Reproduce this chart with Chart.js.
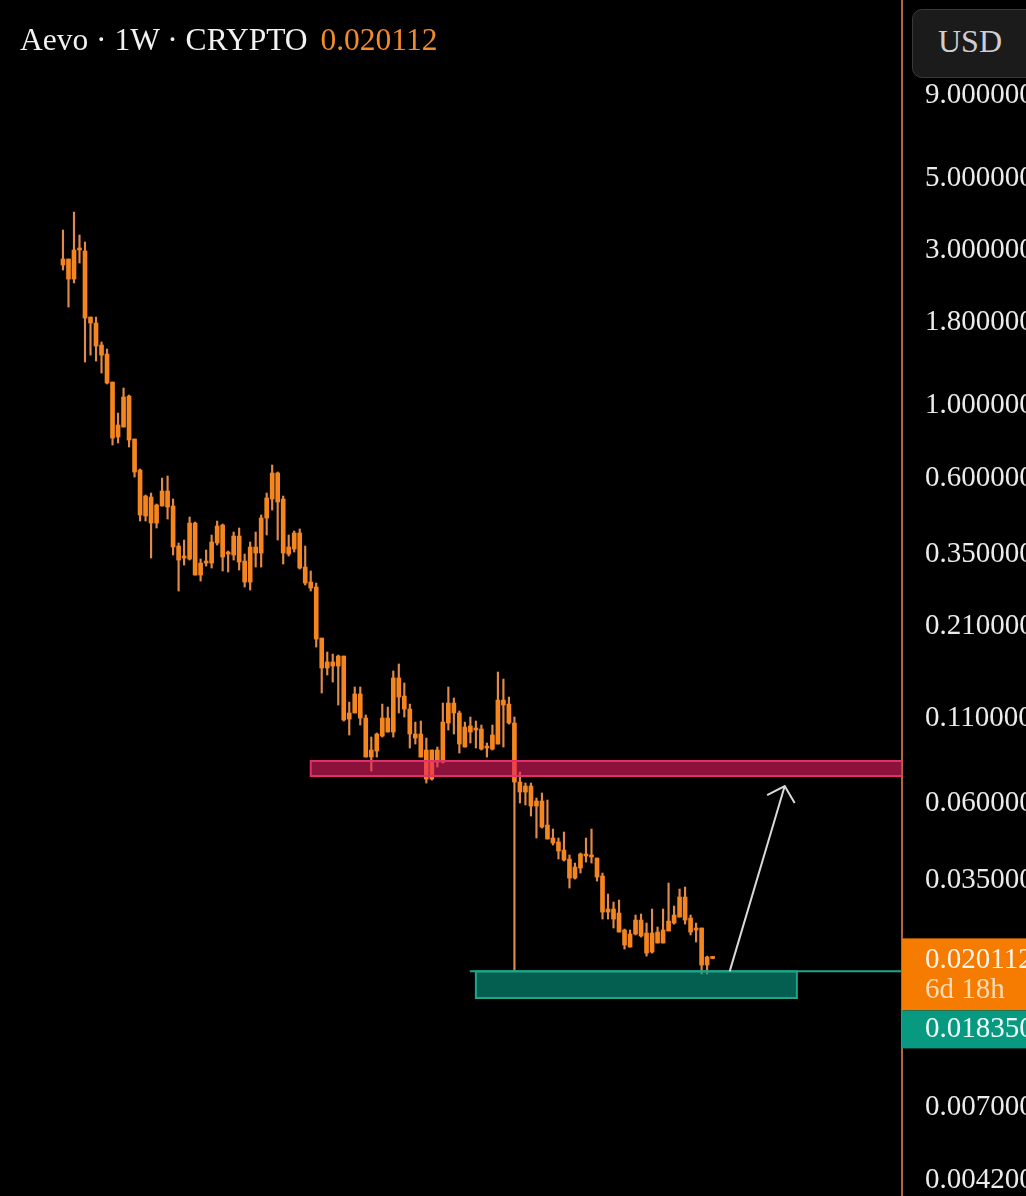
<!DOCTYPE html>
<html lang="en">
<head>
<meta charset="UTF-8">
<title>Aevo · 1W · CRYPTO</title>
<script src="https://cdn.jsdelivr.net/npm/chart.js"></script>
<style>
  html, body { margin: 0; padding: 0; background: #000; }
  body { width: 1026px; height: 1196px; position: relative; overflow: hidden; font-family: "Liberation Serif", serif; }
  #chart { position: absolute; left: 0; top: 0; }
  .title { position: absolute; left: 20px; top: 22px; font-size: 31.5px; color: #f2f2f2; white-space: nowrap; }
  .title .price { color: #f28c28; margin-left: 5px; }
  .usd {
    position: absolute; left: 912px; top: 9px; width: 130px; height: 69px; box-sizing: border-box;
    background: #1b1b1b; border: 1px solid #3a3a3a; border-radius: 10px;
    color: #cfcfcf; font-size: 32px; line-height: 63px; padding-left: 25px;
  }
</style>
</head>
<body>
  <canvas id="chart" width="1026" height="1196"></canvas>
  <div class="title">Aevo · 1W · CRYPTO <span class="price">0.020112</span></div>
  <div class="usd">USD</div>

<script>
// weekly candles, oldest first
const open = [2.706, 2.823, 2.451, 3.009, 2.988, 1.873, 1.796, 1.537, 1.442, 1.183,
  0.8021, 0.8608, 1.0716, 0.7908, 0.6352, 0.4588, 0.5248, 0.4366, 0.4925, 0.5475,
  0.4925, 0.3711, 0.3410, 0.3385, 0.4366, 0.3023, 0.3290, 0.3290, 0.3791, 0.4305,
  0.3507, 0.3483, 0.3983, 0.3337, 0.2877, 0.3685, 0.3532, 0.4524, 0.5174, 0.6219,
  0.5174, 0.3507, 0.3634, 0.4069, 0.3199, 0.2877, 0.2777, 0.1936, 0.1567, 0.1635,
  0.1589, 0.1705, 0.1092, 0.1140, 0.1304, 0.1100, 0.0835, 0.08712, 0.09686, 0.1100,
  0.09964, 0.1460, 0.1285, 0.1172, 0.09824, 0.09824, 0.08774, 0.07147, 0.08774, 0.08059,
  0.1062, 0.1223, 0.1140, 0.08962, 0.1040, 0.10106, 0.1018, 0.08899, 0.08836, 0.09153,
  0.1249, 0.1214, 0.1062, 0.06997, 0.0652, 0.06802, 0.05906, 0.06119, 0.05163, 0.0471,
  0.04579, 0.04327, 0.0406, 0.03549, 0.03809, 0.04206, 0.04118, 0.04088, 0.036, 0.02791,
  0.02851, 0.02772, 0.02458, 0.02179, 0.02389, 0.02637, 0.02406, 0.02103, 0.02423, 0.02242,
  0.02441, 0.02582, 0.02694, 0.03104, 0.02675, 0.02458, 0.02493, 0.01919, 0.02015];
const high = [3.465, 2.823, 3.936, 3.345, 3.184, 1.873, 1.873, 1.570, 1.494, 1.183,
  0.9503, 1.134, 1.079, 0.7908, 0.6397, 0.5323, 0.5398, 0.4995, 0.6001, 0.6088,
  0.5174, 0.3791, 0.3872, 0.4556, 0.4397, 0.3385, 0.3608, 0.4012, 0.4429, 0.4336,
  0.3583, 0.4098, 0.4215, 0.3507, 0.3818, 0.4098, 0.4621, 0.5398, 0.6580, 0.6263,
  0.5285, 0.4012, 0.4127, 0.4186, 0.3711, 0.3110, 0.2857, 0.1936, 0.1754, 0.1729,
  0.1717, 0.1705, 0.1231, 0.1370, 0.1370, 0.1124, 0.09618, 0.09894, 0.1214, 0.1189,
  0.1534, 0.1612, 0.1409, 0.1214, 0.1069, 0.1077, 0.0955, 0.08774, 0.08962, 0.1223,
  0.1370, 0.1267, 0.1156, 0.1069, 0.1108, 0.1077, 0.1047, 0.09218, 0.1047, 0.1523,
  0.1449, 0.1276, 0.1108, 0.0751, 0.06948, 0.06948, 0.06249, 0.06474, 0.06162, 0.05019,
  0.0471, 0.04914, 0.04177, 0.03946, 0.04236, 0.0471, 0.05019, 0.04088, 0.03677, 0.0317,
  0.02995, 0.03038, 0.02475, 0.02458, 0.02733, 0.02752, 0.02582, 0.02851, 0.0251, 0.02851,
  0.03426, 0.02912, 0.03284, 0.03331, 0.02733, 0.02582, 0.02493, 0.02044, 0.0202];
const low = [2.612, 2.010, 2.383, 2.744, 1.363, 1.431, 1.372, 1.261, 1.167, 0.7579,
  0.7687, 0.8608, 0.7473, 0.6044, 0.4429, 0.4429, 0.3410, 0.4215, 0.4925, 0.4492,
  0.3483, 0.2700, 0.3244, 0.3361, 0.3023, 0.2897, 0.3221, 0.3176, 0.3738, 0.3110,
  0.3088, 0.3361, 0.3132, 0.2777, 0.2719, 0.3199, 0.3199, 0.4012, 0.4787, 0.3872,
  0.3267, 0.3458, 0.3557, 0.3154, 0.2817, 0.2700, 0.1817, 0.1313, 0.1491, 0.1419,
  0.1206, 0.1077, 0.09755, 0.1140, 0.1047, 0.0835, 0.07563, 0.0835, 0.09618, 0.09964,
  0.09618, 0.1140, 0.1108, 0.08899, 0.09153, 0.0835, 0.06948, 0.07097, 0.07779, 0.08002,
  0.10106, 0.09824, 0.0859, 0.08962, 0.09218, 0.08899, 0.08774, 0.0835, 0.08774, 0.09153,
  0.08962, 0.1054, 0.0184, 0.06033, 0.05948, 0.05502, 0.0471, 0.05055, 0.04677, 0.04483,
  0.0406, 0.04003, 0.03307, 0.03524, 0.03677, 0.03974, 0.03946, 0.03474, 0.02656, 0.02656,
  0.02493, 0.02423, 0.02148, 0.02179, 0.02373, 0.02339, 0.02044, 0.02088, 0.02242, 0.02242,
  0.02441, 0.02563, 0.02694, 0.02563, 0.02373, 0.02258, 0.01801, 0.01801, 0.02005];
const close = [2.823, 2.451, 3.009, 3.030, 1.860, 1.796, 1.526, 1.431, 1.175, 0.7965,
  0.8731, 1.064, 0.7852, 0.6263, 0.4621, 0.5285, 0.4366, 0.4960, 0.5475, 0.4890,
  0.3685, 0.3361, 0.3458, 0.4366, 0.3023, 0.3290, 0.3337, 0.3818, 0.4275, 0.3434,
  0.3532, 0.3983, 0.3314, 0.2877, 0.3685, 0.3532, 0.4524, 0.5211, 0.6219, 0.5066,
  0.3532, 0.3685, 0.4069, 0.3176, 0.2857, 0.2758, 0.1923, 0.1567, 0.1635, 0.1589,
  0.1705, 0.1085, 0.1140, 0.1304, 0.1100, 0.0835, 0.08774, 0.09824, 0.1100, 0.09964,
  0.1460, 0.1276, 0.1172, 0.09824, 0.0955, 0.0835, 0.07147, 0.08774, 0.08059, 0.1069,
  0.1223, 0.1140, 0.09153, 0.1032, 0.09964, 0.1025, 0.08836, 0.08962, 0.09755, 0.1249,
  0.1206, 0.1062, 0.06997, 0.0652, 0.06802, 0.05906, 0.06119, 0.05091, 0.04677, 0.04547,
  0.04296, 0.04031, 0.03549, 0.03836, 0.04206, 0.04147, 0.04177, 0.03574, 0.02791, 0.02851,
  0.02656, 0.02423, 0.0221, 0.02389, 0.02637, 0.02356, 0.02088, 0.02406, 0.02242, 0.02458,
  0.02618, 0.02733, 0.03104, 0.02637, 0.02423, 0.02493, 0.01919, 0.0203, 0.020112];

// price axis labels
const yTicks = [9, 5, 3, 1.8, 1, 0.6, 0.35, 0.21, 0.11, 0.06, 0.035, 0.007, 0.0042];
const lastPrice = 0.020112;
const countdown = '6d 18h';
const supportPrice = 0.01835;

// drawings: [fromIndex, toIndex, topPrice, bottomPrice]
const resistanceZone = [45, 152.4, 0.0812, 0.0730];
const supportZone = [75, 133.3, 0.01835, 0.0152];
const supportLineFrom = 73.9;
// arrow: start, tip, head wings as [index, price]
const arrowPts = [[121.1, 0.01835], [131.1, 0.0680], [127.9, 0.0638], [132.9, 0.0603]];

const idx = open.map((_, i) => i);
const bodies = idx.map(i => ({ x: i, y: [Math.min(open[i], close[i]), Math.max(open[i], close[i])] }));
const wicks = idx.map(i => ({ x: i, y: [low[i], high[i]] }));

const drawings = {
  id: 'drawings',
  afterDatasetsDraw(chart) {
    const { ctx, chartArea, scales: { x, y } } = chart;
    ctx.save();
    ctx.beginPath();
    ctx.rect(chartArea.left, chartArea.top, chartArea.width, chartArea.height);
    ctx.clip();

    // resistance zone
    let x0 = x.getPixelForValue(resistanceZone[0]), x1 = x.getPixelForValue(resistanceZone[1]);
    let y0 = y.getPixelForValue(resistanceZone[2]), y1 = y.getPixelForValue(resistanceZone[3]);
    ctx.fillStyle = 'rgba(233,30,99,0.6)';
    ctx.fillRect(x0, y0, x1 - x0, y1 - y0);
    ctx.strokeStyle = '#e3306c';
    ctx.lineWidth = 2;
    ctx.strokeRect(x0, y0, x1 - x0, y1 - y0);

    // support zone
    x0 = x.getPixelForValue(supportZone[0]); x1 = x.getPixelForValue(supportZone[1]);
    y0 = y.getPixelForValue(supportZone[2]); y1 = y.getPixelForValue(supportZone[3]);
    ctx.fillStyle = 'rgba(8,153,129,0.62)';
    ctx.fillRect(x0, y0, x1 - x0, y1 - y0);
    ctx.strokeStyle = '#1fa58c';
    ctx.strokeRect(x0, y0, x1 - x0, y1 - y0);
    ctx.beginPath();
    ctx.moveTo(x.getPixelForValue(supportLineFrom), y0);
    ctx.lineTo(chartArea.right, y0);
    ctx.stroke();

    // arrow
    const p = arrowPts.map(a => [x.getPixelForValue(a[0]), y.getPixelForValue(a[1])]);
    ctx.strokeStyle = '#d9d9d9';
    ctx.lineWidth = 2;
    ctx.beginPath();
    ctx.moveTo(p[0][0], p[0][1]); ctx.lineTo(p[1][0], p[1][1]);
    ctx.moveTo(p[2][0], p[2][1]); ctx.lineTo(p[1][0], p[1][1]); ctx.lineTo(p[3][0], p[3][1]);
    ctx.stroke();
    ctx.restore();
  },
  afterDraw(chart) {
    const { ctx, chartArea, scales: { y } } = chart;
    const py = y.getPixelForValue(lastPrice);
    const left = chartArea.right;
    const w = chart.width - left;
    ctx.save();
    ctx.fillStyle = '#f57c00';
    ctx.fillRect(left, py - 20, w, 72);
    ctx.fillStyle = '#089981';
    ctx.fillRect(left, py + 52, w, 38);
    ctx.font = '29px "Liberation Serif"';
    ctx.textBaseline = 'middle';
    ctx.fillStyle = '#fff4ea';
    ctx.fillText(lastPrice.toFixed(6), left + 23, py + 2);
    ctx.fillStyle = '#ffdcb8';
    ctx.fillText(countdown, left + 23, py + 32);
    ctx.fillStyle = '#f2fffb';
    ctx.fillText(supportPrice.toFixed(6), left + 23, py + 71);
    ctx.restore();
  }
};

new Chart(document.getElementById('chart'), {
  type: 'bar',
  data: {
    datasets: [
      { data: bodies, backgroundColor: '#f5861f', barThickness: 4, grouped: false, minBarLength: 2 },
      { data: wicks, backgroundColor: '#e08a4c', barThickness: 1.5, grouped: false, minBarLength: 1 }
    ]
  },
  options: {
    responsive: false,
    animation: false,
    devicePixelRatio: 1,
    layout: { padding: 0, autoPadding: false },
    plugins: { legend: { display: false }, tooltip: { enabled: false } },
    scales: {
      x: {
        type: 'linear',
        display: false,
        offset: false,
        bounds: 'data',
        min: -11.44,
        max: 152.4
      },
      y: {
        type: 'logarithmic',
        position: 'right',
        bounds: 'data',
        min: 0.003749,
        max: 17.62,
        grid: { display: false, drawTicks: false },
        border: { display: true, color: '#b4663a', width: 2 },
        afterBuildTicks: axis => { axis.ticks = yTicks.map(v => ({ value: v })); },
        afterFit: axis => {
          axis.width = 124;
          axis.paddingTop = 0;
          axis.paddingBottom = 0;
        },
        ticks: {
          autoSkip: false,
          padding: 23,
          color: '#ececec',
          font: { family: 'Liberation Serif', size: 29 },
          callback: v => Number(v).toFixed(6)
        }
      }
    }
  },
  plugins: [drawings]
});
</script>
</body>
</html>
